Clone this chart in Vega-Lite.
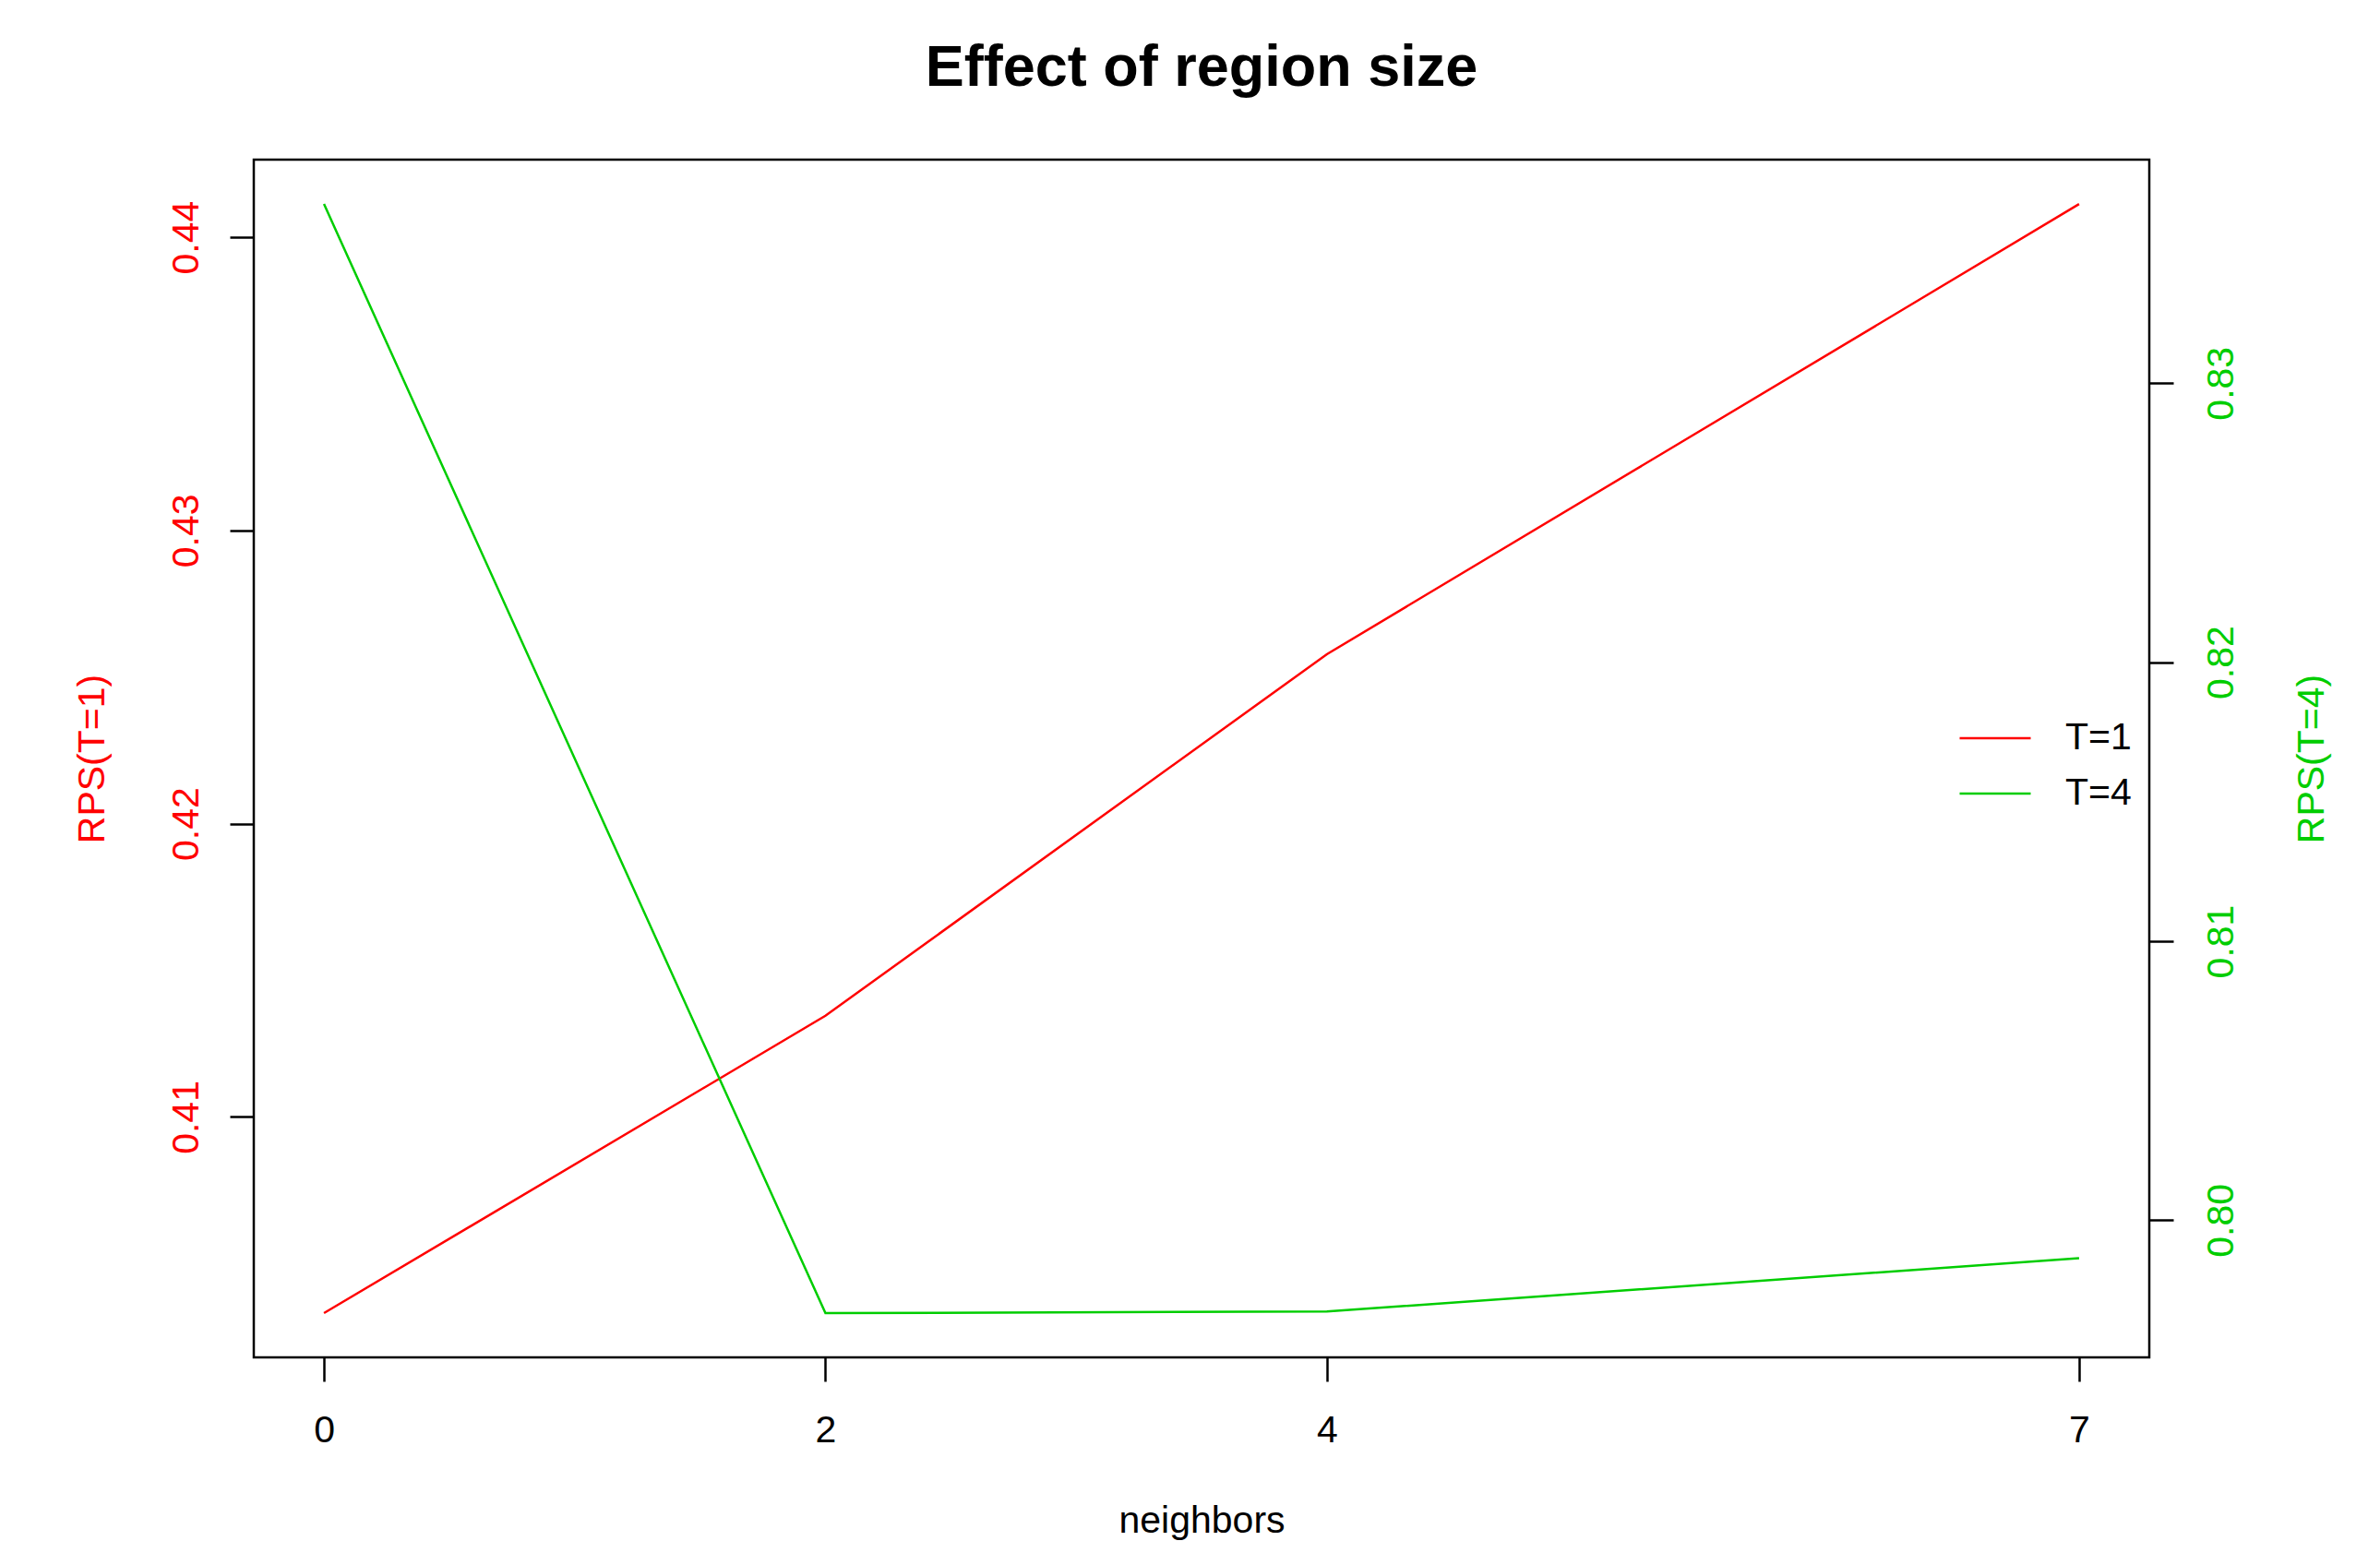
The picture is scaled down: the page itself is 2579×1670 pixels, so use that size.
{
  "$schema": "https://vega.github.io/schema/vega-lite/v6.json",
  "width": 2054,
  "height": 1298,
  "autosize": {"type": "none"},
  "padding": {"left": 275, "top": 173, "right": 250, "bottom": 199},
  "background": "white",
  "title": {
    "text": "Effect of region size",
    "fontSize": 63,
    "font": "Liberation Sans",
    "fontWeight": "bold",
    "color": "black",
    "anchor": "middle",
    "baseline": "alphabetic",
    "offset": 17
  },
  "config": {
    "view": {"stroke": "black", "strokeWidth": 2.5},
    "font": "Liberation Sans"
  },
  "data": {
    "values": [
      {"neighbors": 0, "series": "T=1", "rps": 0.40331},
      {"neighbors": 2, "series": "T=1", "rps": 0.41345},
      {"neighbors": 4, "series": "T=1", "rps": 0.42578},
      {"neighbors": 7, "series": "T=1", "rps": 0.44113},
      {"neighbors": 0, "series": "T=4", "rps": 0.83642},
      {"neighbors": 2, "series": "T=4", "rps": 0.79667},
      {"neighbors": 4, "series": "T=4", "rps": 0.79673},
      {"neighbors": 7, "series": "T=4", "rps": 0.79864}
    ]
  },
  "encoding": {
    "x": {
      "field": "neighbors",
      "type": "quantitative",
      "scale": {"domain": [-0.28, 7.28], "nice": false, "zero": false},
      "axis": {
        "values": [0, 2, 4, 7],
        "format": "d",
        "domain": false,
        "grid": false,
        "tickSize": 26,
        "tickWidth": 2.5,
        "tickColor": "black",
        "labelFlush": false,
        "labelOverlap": false,
        "labelFontSize": 41,
        "labelFont": "Liberation Sans",
        "labelColor": "black",
        "labelBaseline": "top",
        "labelPadding": 33,
        "title": "neighbors",
        "titleFontSize": 41,
        "titleFont": "Liberation Sans",
        "titleFontWeight": "normal",
        "titleColor": "black",
        "titleAnchor": "middle",
        "titleBaseline": "alphabetic",
        "titleX": 1027,
        "titleY": 189
      }
    },
    "color": {
      "field": "series",
      "type": "nominal",
      "scale": {"domain": ["T=1", "T=4"], "range": ["#ff0000", "#00cd00"]},
      "legend": {
        "orient": "none",
        "legendX": 1847,
        "legendY": 587,
        "title": null,
        "padding": 0,
        "symbolType": "stroke",
        "symbolSize": 5929,
        "symbolStrokeWidth": 2.5,
        "labelFontSize": 41,
        "labelFont": "Liberation Sans",
        "labelColor": "black",
        "labelOffset": 36,
        "rowPadding": -8.5,
        "encode": {
          "symbols": {"update": {"stroke": {"signal": "datum.value === 'T=4' ? '#00ff00' : '#ff0000'"}}}
        }
      }
    }
  },
  "layer": [
    {
      "transform": [{"filter": "datum.series === 'T=1'"}],
      "mark": {"type": "line", "strokeWidth": 2.5},
      "encoding": {
        "y": {
          "field": "rps",
          "type": "quantitative",
          "scale": {"domain": [0.401801, 0.442645], "nice": false, "zero": false},
          "axis": {
            "orient": "left",
            "values": [0.41, 0.42, 0.43, 0.44],
            "format": ".2f",
            "domain": false,
            "grid": false,
            "tickSize": 26,
            "tickWidth": 2.5,
            "tickColor": "black",
            "labelFlush": false,
            "labelOverlap": false,
            "labelAngle": 270,
            "labelAlign": "center",
            "labelBaseline": "bottom",
            "labelPadding": 26,
            "labelColor": "#ff0000",
            "labelFontSize": 41,
            "labelFont": "Liberation Sans",
            "title": "RPS(T=1)",
            "titleColor": "#ff0000",
            "titleFontSize": 41,
            "titleFont": "Liberation Sans",
            "titleFontWeight": "normal",
            "titleAngle": 270,
            "titleAlign": "center",
            "titleBaseline": "middle",
            "titleX": -175,
            "titleY": 649
          }
        }
      }
    },
    {
      "transform": [{"filter": "datum.series === 'T=4'"}],
      "mark": {"type": "line", "strokeWidth": 2.5},
      "encoding": {
        "y": {
          "field": "rps",
          "type": "quantitative",
          "scale": {"domain": [0.795085, 0.838011], "nice": false, "zero": false},
          "axis": {
            "orient": "right",
            "values": [0.80, 0.81, 0.82, 0.83],
            "format": ".2f",
            "domain": false,
            "grid": false,
            "tickSize": 26,
            "tickWidth": 2.5,
            "tickColor": "black",
            "labelFlush": false,
            "labelOverlap": false,
            "labelAngle": 270,
            "labelAlign": "center",
            "labelBaseline": "top",
            "labelPadding": 32,
            "labelColor": "#00cd00",
            "labelFontSize": 41,
            "labelFont": "Liberation Sans",
            "title": "RPS(T=4)",
            "titleColor": "#00cd00",
            "titleFontSize": 41,
            "titleFont": "Liberation Sans",
            "titleFontWeight": "normal",
            "titleAngle": 270,
            "titleAlign": "center",
            "titleBaseline": "middle",
            "titleX": 176,
            "titleY": 649
          }
        }
      }
    }
  ],
  "resolve": {"scale": {"y": "independent"}}
}
